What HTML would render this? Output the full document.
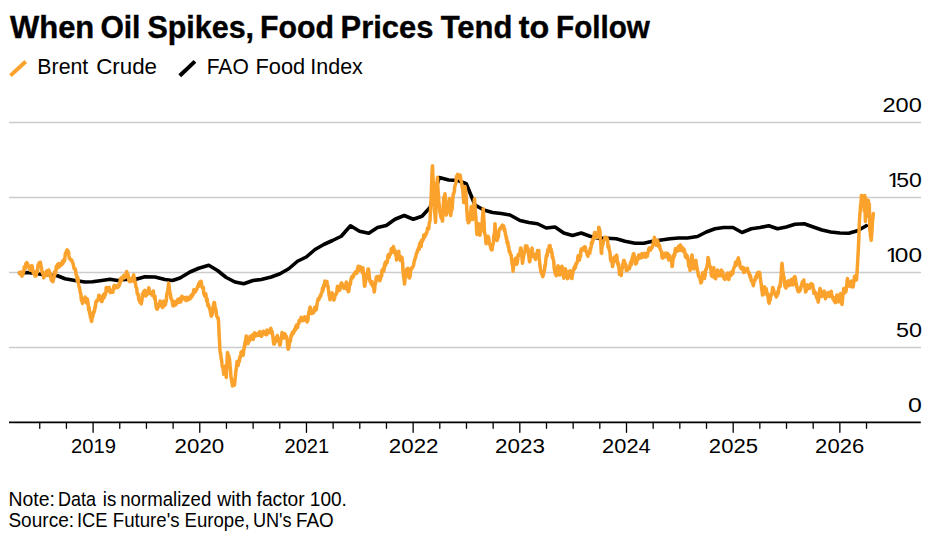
<!DOCTYPE html>
<html lang="en">
<head>
<meta charset="utf-8">
<title>When Oil Spikes, Food Prices Tend to Follow</title>
<style>
html,body{margin:0;padding:0;background:#fff;}
body{width:940px;height:540px;overflow:hidden;font-family:"Liberation Sans", Arial, Helvetica, sans-serif;}
svg{display:block;}
text{font-family:"Liberation Sans", Arial, Helvetica, sans-serif;fill:#000;white-space:pre;}
.t{font-size:31.0px;font-weight:700;}.l{font-size:22.8px;font-weight:400;}.n{font-size:19.3px;font-weight:400;}.a{font-size:19.6px;font-weight:400;}
</style>
</head>
<body>
<svg width="940" height="540" viewBox="0 0 940 540">
<rect x="0" y="0" width="940" height="540" fill="#ffffff"/>
<line x1="9" y1="122.5" x2="921" y2="122.5" stroke="#cccccc" stroke-width="1.45"/>
<line x1="9" y1="197.5" x2="921" y2="197.5" stroke="#cccccc" stroke-width="1.45"/>
<line x1="9" y1="272.5" x2="921" y2="272.5" stroke="#cccccc" stroke-width="1.45"/>
<line x1="9" y1="347.5" x2="921" y2="347.5" stroke="#cccccc" stroke-width="1.45"/>
<line x1="10.45" y1="75.6" x2="25.75" y2="61.5" stroke="#FBA22D" stroke-width="4"/>
<line x1="179.75" y1="75.8" x2="194.95" y2="61.4" stroke="#000" stroke-width="4"/>
<text class="t" y="37.5" stroke="#000" stroke-width="0.4"><tspan x="10.00" textLength="84.27" lengthAdjust="spacingAndGlyphs">When</tspan> <tspan x="100.39" textLength="40.04" lengthAdjust="spacingAndGlyphs">Oil</tspan> <tspan x="147.42" textLength="106.61" lengthAdjust="spacingAndGlyphs">Spikes,</tspan> <tspan x="260.05" textLength="73.90" lengthAdjust="spacingAndGlyphs">Food</tspan> <tspan x="340.61" textLength="92.72" lengthAdjust="spacingAndGlyphs">Prices</tspan> <tspan x="440.75" textLength="71.65" lengthAdjust="spacingAndGlyphs">Tend</tspan> <tspan x="518.88" textLength="30.44" lengthAdjust="spacingAndGlyphs">to</tspan> <tspan x="556.09" textLength="93.82" lengthAdjust="spacingAndGlyphs">Follow</tspan></text>
<text class="l" y="73.7"><tspan x="37.37" textLength="50.87" lengthAdjust="spacingAndGlyphs">Brent</tspan> <tspan x="96.17" textLength="60.90" lengthAdjust="spacingAndGlyphs">Crude</tspan></text>
<text class="l" y="73.7"><tspan x="206.69" textLength="42.04" lengthAdjust="spacingAndGlyphs">FAO</tspan> <tspan x="255.53" textLength="49.68" lengthAdjust="spacingAndGlyphs">Food</tspan> <tspan x="310.32" textLength="52.55" lengthAdjust="spacingAndGlyphs">Index</tspan></text>
<text class="n" y="505.6"><tspan x="8.49" textLength="46.36" lengthAdjust="spacingAndGlyphs">Note:</tspan> <tspan x="58.00" textLength="37.98" lengthAdjust="spacingAndGlyphs">Data</tspan> <tspan x="102.79" textLength="13.47" lengthAdjust="spacingAndGlyphs">is</tspan> <tspan x="120.29" textLength="90.97" lengthAdjust="spacingAndGlyphs">normalized</tspan> <tspan x="217.30" textLength="34.50" lengthAdjust="spacingAndGlyphs">with</tspan> <tspan x="256.55" textLength="47.98" lengthAdjust="spacingAndGlyphs">factor</tspan> <tspan x="309.82" textLength="37.04" lengthAdjust="spacingAndGlyphs">100.</tspan></text>
<text class="n" y="527.4"><tspan x="8.41" textLength="65.67" lengthAdjust="spacingAndGlyphs">Source:</tspan> <tspan x="76.94" textLength="30.52" lengthAdjust="spacingAndGlyphs">ICE</tspan> <tspan x="112.75" textLength="66.79" lengthAdjust="spacingAndGlyphs">Future's</tspan> <tspan x="184.55" textLength="65.18" lengthAdjust="spacingAndGlyphs">Europe,</tspan> <tspan x="252.89" textLength="38.74" lengthAdjust="spacingAndGlyphs">UN's</tspan> <tspan x="296.03" textLength="37.78" lengthAdjust="spacingAndGlyphs">FAO</tspan></text>
<text class="a" y="452.9"><tspan x="70.97" textLength="44.90" lengthAdjust="spacingAndGlyphs">2019</tspan></text>
<text class="a" y="452.9"><tspan x="174.61" textLength="49.60" lengthAdjust="spacingAndGlyphs">2020</tspan></text>
<text class="a" y="452.9"><tspan x="284.48" textLength="44.64" lengthAdjust="spacingAndGlyphs">2021</tspan></text>
<text class="a" y="452.9"><tspan x="388.86" textLength="49.58" lengthAdjust="spacingAndGlyphs">2022</tspan></text>
<text class="a" y="452.9"><tspan x="495.11" textLength="49.86" lengthAdjust="spacingAndGlyphs">2023</tspan></text>
<text class="a" y="452.9"><tspan x="602.14" textLength="48.52" lengthAdjust="spacingAndGlyphs">2024</tspan></text>
<text class="a" y="452.9"><tspan x="708.87" textLength="49.08" lengthAdjust="spacingAndGlyphs">2025</tspan></text>
<text class="a" y="452.9"><tspan x="815.13" textLength="49.02" lengthAdjust="spacingAndGlyphs">2026</tspan></text>
<text class="a" y="111.9"><tspan x="882.50" textLength="39.35" lengthAdjust="spacingAndGlyphs">200</tspan></text>
<clipPath id="c186"><rect x="888.40" y="166.9" width="7.10" height="18.10"/><rect x="892.70" y="184.90" width="2.80" height="2.90"/><rect x="895.50" y="166.9" width="40" height="18.10"/><rect x="899.27" y="184.90" width="40" height="8"/></clipPath>
<text class="a" y="186.9" clip-path="url(#c186)"><tspan x="887.15" textLength="13.09" lengthAdjust="spacingAndGlyphs">1</tspan><tspan x="896.32" textLength="25.62" lengthAdjust="spacingAndGlyphs">50</tspan></text>
<clipPath id="c261"><rect x="886.90" y="241.89999999999998" width="7.20" height="18.10"/><rect x="891.26" y="259.90" width="2.84" height="2.90"/><rect x="894.10" y="241.89999999999998" width="40" height="18.10"/><rect x="897.94" y="259.90" width="40" height="8"/></clipPath>
<text class="a" y="261.9" clip-path="url(#c261)"><tspan x="885.61" textLength="13.32" lengthAdjust="spacingAndGlyphs">1</tspan><tspan x="894.87" textLength="27.13" lengthAdjust="spacingAndGlyphs">00</tspan></text>
<text class="a" y="336.9"><tspan x="895.90" textLength="26.05" lengthAdjust="spacingAndGlyphs">50</tspan></text>
<text class="a" y="411.9"><tspan x="907.94" textLength="13.89" lengthAdjust="spacingAndGlyphs">0</tspan></text>
<path d="M19.50,273.00 L27.50,272.50 L36.00,273.50 L45.00,275.00 L54.00,275.50 L57.50,275.75 L65.00,278.75 L75.00,280.50 L85.00,282.00 L92.50,281.75 L100.00,280.75 L110.00,279.25 L117.50,280.50 L125.00,279.50 L135.00,279.50 L145.00,276.75 L155.00,277.00 L165.00,279.50 L172.50,280.50 L180.00,278.00 L190.00,272.00 L198.75,268.25 L208.75,265.25 L217.50,270.50 L226.25,277.50 L235.00,282.00 L243.75,283.75 L253.00,280.50 L261.25,279.50 L271.25,277.00 L280.00,273.75 L288.75,268.75 L297.50,261.25 L306.25,257.00 L315.00,249.50 L323.75,244.50 L332.50,240.50 L341.25,236.25 L350.50,225.75 L359.50,231.25 L368.75,233.25 L377.50,227.50 L386.25,225.50 L395.00,219.25 L404.25,215.50 L413.25,219.25 L422.00,216.25 L430.00,207.50 L439.25,177.50 L448.75,180.00 L458.00,180.50 L466.25,183.75 L475.00,205.00 L483.75,210.00 L492.50,212.50 L501.25,213.50 L510.00,215.00 L520.00,220.50 L528.75,222.50 L537.50,223.75 L546.25,228.00 L555.00,227.00 L563.75,233.00 L572.50,235.50 L581.25,233.00 L590.00,236.25 L598.75,238.25 L607.50,238.25 L616.25,238.75 L625.00,241.25 L635.00,243.25 L643.75,243.25 L652.50,241.25 L661.25,240.00 L670.00,238.75 L678.75,238.00 L687.50,238.00 L697.50,236.50 L706.25,232.00 L715.00,228.75 L723.75,227.50 L733.00,227.50 L742.00,232.50 L751.25,228.75 L760.00,227.50 L768.75,225.75 L777.50,228.75 L786.25,227.00 L795.00,224.25 L804.25,223.75 L813.25,227.00 L822.00,230.00 L830.75,232.00 L840.00,233.00 L848.75,233.25 L857.50,230.75 L866.25,225.75" fill="none" stroke="#000" stroke-width="3.6" stroke-linejoin="round" stroke-linecap="round"/>
<path d="M19.50,272.54 L19.92,274.01 L20.33,273.36 L20.75,273.13 L21.17,272.11 L21.58,273.20 L22.00,276.14 L22.38,274.96 L22.75,275.08 L23.12,273.14 L23.50,272.15 L23.88,270.86 L24.25,266.65 L24.62,269.00 L25.00,268.63 L25.42,268.21 L25.83,263.74 L26.25,263.15 L26.67,262.66 L27.08,262.86 L27.50,263.95 L27.90,264.70 L28.30,266.50 L28.70,265.56 L29.10,267.46 L29.50,268.80 L29.92,266.92 L30.33,270.27 L30.75,269.41 L31.17,269.93 L31.58,266.96 L32.00,265.60 L32.35,267.24 L32.70,269.12 L33.05,271.98 L33.40,273.17 L33.75,273.22 L34.17,272.05 L34.58,272.56 L35.00,276.01 L35.42,273.70 L35.83,274.92 L36.25,275.81 L36.67,270.85 L37.08,270.75 L37.50,271.84 L37.92,265.40 L38.33,264.76 L38.75,263.79 L39.17,262.86 L39.58,264.96 L40.00,264.74 L40.42,262.23 L40.83,265.50 L41.25,266.41 L41.67,269.28 L42.08,271.77 L42.50,272.81 L42.92,274.09 L43.33,273.34 L43.75,277.88 L44.17,275.91 L44.58,275.10 L45.00,273.02 L45.42,272.40 L45.83,272.51 L46.25,275.42 L46.67,270.94 L47.08,270.73 L47.50,272.65 L47.92,275.35 L48.33,274.60 L48.75,269.90 L49.17,270.79 L49.58,274.01 L50.00,273.75 L50.42,273.54 L50.83,277.82 L51.25,280.12 L51.67,279.81 L52.08,280.43 L52.50,281.57 L52.92,281.79 L53.33,279.91 L53.75,278.23 L54.17,276.84 L54.58,271.70 L55.00,274.18 L55.42,273.61 L55.83,271.80 L56.25,266.15 L56.67,266.14 L57.08,268.44 L57.50,264.48 L57.92,265.29 L58.33,267.37 L58.75,263.55 L59.17,267.10 L59.58,266.08 L60.00,264.10 L60.42,264.18 L60.83,264.61 L61.25,263.63 L61.67,264.95 L62.08,261.98 L62.50,261.20 L62.92,263.37 L63.33,262.12 L63.75,259.87 L64.16,261.07 L64.56,261.04 L64.97,257.14 L65.38,253.18 L65.78,253.12 L66.19,252.16 L66.59,250.64 L67.00,252.26 L67.38,249.88 L67.75,253.77 L68.12,251.19 L68.50,251.77 L68.88,255.13 L69.25,257.81 L69.62,258.87 L70.00,258.93 L70.42,258.88 L70.83,259.29 L71.25,260.60 L71.67,260.11 L72.08,261.16 L72.50,262.47 L72.92,262.93 L73.33,265.28 L73.75,266.55 L74.17,268.85 L74.58,268.99 L75.00,268.50 L75.38,269.56 L75.75,271.59 L76.12,275.00 L76.50,274.94 L76.88,277.24 L77.25,280.73 L77.62,277.09 L78.00,278.65 L78.42,282.65 L78.83,285.55 L79.25,287.50 L79.67,288.19 L80.08,291.61 L80.50,293.35 L80.90,294.11 L81.30,299.60 L81.70,300.80 L82.10,301.04 L82.50,303.41 L82.92,302.39 L83.33,301.79 L83.75,298.65 L84.17,298.63 L84.58,300.77 L85.00,297.06 L85.42,298.46 L85.83,301.05 L86.25,302.05 L86.67,303.02 L87.08,298.68 L87.50,299.86 L87.92,302.37 L88.33,306.43 L88.75,310.14 L89.17,307.54 L89.58,313.41 L90.00,312.35 L90.42,317.25 L90.83,316.50 L91.25,320.68 L91.67,321.53 L92.08,318.33 L92.50,316.74 L92.92,316.19 L93.33,313.73 L93.75,311.38 L94.17,312.18 L94.58,310.52 L95.00,306.63 L95.42,307.18 L95.83,301.76 L96.25,302.49 L96.67,300.58 L97.08,300.22 L97.50,300.72 L97.92,299.62 L98.33,299.58 L98.75,295.26 L99.17,295.32 L99.58,298.53 L100.00,297.09 L100.42,296.74 L100.83,296.98 L101.25,301.37 L101.67,301.20 L102.08,301.35 L102.50,297.35 L102.92,297.23 L103.33,294.73 L103.75,296.88 L104.17,297.81 L104.58,293.47 L105.00,295.69 L105.42,294.68 L105.83,291.63 L106.25,287.40 L106.67,291.21 L107.08,289.56 L107.50,287.80 L107.92,288.72 L108.33,288.79 L108.75,290.10 L109.17,287.20 L109.58,290.47 L110.00,291.98 L110.42,292.60 L110.83,291.21 L111.25,290.12 L111.67,292.27 L112.08,291.13 L112.50,290.47 L112.92,292.18 L113.33,289.60 L113.75,286.15 L114.17,286.73 L114.58,285.32 L115.00,288.06 L115.42,287.85 L115.83,285.84 L116.25,285.94 L116.67,287.22 L117.08,286.05 L117.50,287.60 L117.92,285.38 L118.33,286.32 L118.75,286.35 L119.17,285.79 L119.58,282.34 L120.00,283.56 L120.42,278.93 L120.83,278.37 L121.25,277.82 L121.67,280.88 L122.08,277.44 L122.50,278.08 L122.92,277.47 L123.33,277.11 L123.75,275.51 L124.17,275.99 L124.58,277.88 L125.00,275.57 L125.42,275.19 L125.83,275.45 L126.25,272.93 L126.67,271.43 L127.08,272.84 L127.50,276.95 L127.92,274.17 L128.33,275.76 L128.75,279.88 L129.17,280.99 L129.58,280.23 L130.00,281.68 L130.42,281.30 L130.83,279.02 L131.25,278.65 L131.67,278.56 L132.08,280.94 L132.50,278.69 L132.92,276.88 L133.33,276.08 L133.75,274.90 L134.17,278.25 L134.58,278.73 L135.00,282.90 L135.42,282.40 L135.83,286.56 L136.25,287.48 L136.67,288.02 L137.08,292.89 L137.50,294.02 L137.92,293.65 L138.33,295.64 L138.75,299.65 L139.17,299.26 L139.58,301.49 L140.00,302.35 L140.42,302.63 L140.83,302.26 L141.25,303.85 L141.67,301.68 L142.08,299.46 L142.50,293.65 L142.92,295.29 L143.33,295.52 L143.75,291.63 L144.17,290.95 L144.58,294.68 L145.00,290.25 L145.42,292.97 L145.83,295.93 L146.25,292.99 L146.67,293.89 L147.08,294.68 L147.50,291.94 L147.92,291.67 L148.33,291.65 L148.75,287.84 L149.17,289.31 L149.58,291.19 L150.00,293.49 L150.42,293.42 L150.83,293.78 L151.25,293.11 L151.67,293.28 L152.08,295.31 L152.50,294.33 L152.92,292.00 L153.33,290.94 L153.75,295.10 L154.16,297.13 L154.56,298.62 L154.97,295.99 L155.38,300.83 L155.78,303.59 L156.19,307.29 L156.59,308.40 L157.00,309.22 L157.38,309.07 L157.75,304.59 L158.12,307.36 L158.50,306.54 L158.88,303.90 L159.25,306.12 L159.62,305.88 L160.00,300.89 L160.42,301.15 L160.83,303.24 L161.25,304.05 L161.67,303.55 L162.08,302.62 L162.50,307.60 L162.92,307.18 L163.33,302.93 L163.75,301.15 L164.17,305.49 L164.58,305.45 L165.00,305.10 L165.42,304.45 L165.83,300.93 L166.25,301.46 L166.67,295.73 L167.08,293.16 L167.50,291.60 L167.92,290.21 L168.33,285.58 L168.75,283.14 L169.10,286.61 L169.45,289.14 L169.80,291.96 L170.15,293.64 L170.50,294.73 L170.92,298.20 L171.33,299.30 L171.75,299.33 L172.17,300.92 L172.58,303.82 L173.00,305.86 L173.41,305.93 L173.81,305.36 L174.22,305.18 L174.62,304.25 L175.03,301.60 L175.44,303.39 L175.84,304.85 L176.25,303.94 L176.67,302.52 L177.08,303.08 L177.50,300.65 L177.92,299.34 L178.33,301.00 L178.75,299.71 L179.17,302.17 L179.58,299.66 L180.00,298.65 L180.42,298.09 L180.83,302.07 L181.25,299.57 L181.67,296.56 L182.08,296.23 L182.50,298.07 L182.92,298.31 L183.33,297.46 L183.75,298.85 L184.17,298.71 L184.58,297.53 L185.00,298.41 L185.42,299.96 L185.83,300.24 L186.25,300.52 L186.67,297.16 L187.08,297.84 L187.50,299.84 L187.92,298.18 L188.33,299.79 L188.75,299.23 L189.17,299.32 L189.58,297.07 L190.00,298.85 L190.42,298.43 L190.83,295.94 L191.25,295.35 L191.67,297.04 L192.08,294.18 L192.50,295.01 L192.92,295.13 L193.33,293.06 L193.75,289.86 L194.17,290.82 L194.58,291.10 L195.00,292.22 L195.42,291.63 L195.83,289.70 L196.25,290.15 L196.67,289.39 L197.08,288.16 L197.50,287.09 L197.92,285.82 L198.33,286.69 L198.75,283.50 L199.17,283.13 L199.58,284.01 L200.00,281.77 L200.42,282.47 L200.83,281.36 L201.25,281.61 L201.67,285.27 L202.08,287.37 L202.50,287.79 L202.92,288.43 L203.33,287.40 L203.75,293.63 L204.17,294.05 L204.58,295.92 L205.00,293.69 L205.42,294.84 L205.83,293.86 L206.25,297.99 L206.67,301.23 L207.08,298.65 L207.50,302.12 L207.92,305.78 L208.33,304.27 L208.75,306.15 L209.17,307.19 L209.58,308.79 L210.00,309.27 L210.42,312.06 L210.83,314.11 L211.25,316.19 L211.66,315.28 L212.06,314.79 L212.47,313.38 L212.88,307.92 L213.28,306.55 L213.69,304.16 L214.09,302.56 L214.50,302.69 L214.90,305.89 L215.30,309.51 L215.70,308.66 L216.10,311.15 L216.50,315.30 L216.90,316.31 L217.30,316.95 L217.70,318.11 L218.10,317.74 L218.50,320.74 L218.88,329.02 L219.25,336.41 L219.62,343.22 L220.00,351.78 L220.40,352.40 L220.80,354.90 L221.20,359.16 L221.60,359.90 L222.00,364.45 L222.35,366.82 L222.70,366.05 L223.05,368.94 L223.40,370.98 L223.75,374.22 L224.17,372.93 L224.58,369.96 L225.00,366.10 L225.42,369.67 L225.83,372.95 L226.25,377.44 L226.67,370.11 L227.08,361.11 L227.50,352.40 L227.90,354.42 L228.30,355.11 L228.70,355.40 L229.10,357.88 L229.50,358.72 L229.85,363.24 L230.20,367.85 L230.55,370.05 L230.90,376.60 L231.25,377.83 L231.67,381.68 L232.08,382.62 L232.50,386.09 L232.90,380.90 L233.30,380.99 L233.70,382.65 L234.10,383.71 L234.50,385.10 L234.92,379.82 L235.33,376.77 L235.75,372.29 L236.17,369.59 L236.58,365.96 L237.00,361.60 L237.42,363.12 L237.83,361.34 L238.25,365.32 L238.60,360.97 L238.95,360.75 L239.30,361.85 L239.65,358.26 L240.00,356.46 L240.35,357.42 L240.70,355.06 L241.05,352.08 L241.40,352.30 L241.75,352.32 L242.12,353.21 L242.50,351.06 L242.88,354.79 L243.25,355.10 L243.60,351.44 L243.95,349.31 L244.30,346.01 L244.65,346.88 L245.00,342.06 L245.42,341.89 L245.83,338.67 L246.25,336.08 L246.60,339.30 L246.95,342.10 L247.30,341.39 L247.65,340.59 L248.00,343.64 L248.40,341.56 L248.80,340.67 L249.20,341.35 L249.60,340.10 L250.00,336.22 L250.42,339.06 L250.83,337.58 L251.25,338.61 L251.67,336.53 L252.08,337.02 L252.50,334.90 L252.92,339.39 L253.33,339.27 L253.75,334.97 L254.17,333.23 L254.58,332.82 L255.00,336.21 L255.42,334.80 L255.83,335.17 L256.25,334.97 L256.67,335.39 L257.08,333.93 L257.50,335.55 L257.92,333.15 L258.33,334.21 L258.75,334.94 L259.17,335.16 L259.58,333.65 L260.00,331.59 L260.42,333.12 L260.83,332.61 L261.25,336.23 L261.67,336.17 L262.08,334.66 L262.50,333.60 L262.92,332.34 L263.33,331.21 L263.75,331.59 L264.17,332.62 L264.58,333.11 L265.00,333.10 L265.42,334.48 L265.83,331.64 L266.25,332.02 L266.67,334.85 L267.08,329.92 L267.50,330.70 L267.91,331.96 L268.31,332.23 L268.72,332.64 L269.12,331.47 L269.53,332.01 L269.94,331.49 L270.34,332.46 L270.75,328.15 L271.10,329.10 L271.45,331.57 L271.80,331.13 L272.15,331.55 L272.50,335.22 L272.92,336.41 L273.33,340.76 L273.75,344.11 L274.10,343.61 L274.45,343.80 L274.80,342.77 L275.15,340.06 L275.50,341.59 L275.88,341.44 L276.25,338.60 L276.62,337.36 L277.00,337.44 L277.35,335.59 L277.70,337.99 L278.05,340.35 L278.40,338.16 L278.75,338.98 L279.17,340.23 L279.58,344.68 L280.00,345.23 L280.40,344.13 L280.80,339.75 L281.20,338.30 L281.60,336.66 L282.00,332.40 L282.35,337.18 L282.70,338.21 L283.05,334.12 L283.40,337.51 L283.75,337.44 L284.10,337.79 L284.45,337.43 L284.80,333.63 L285.15,334.29 L285.50,337.26 L285.88,336.32 L286.25,336.20 L286.62,337.09 L287.00,338.65 L287.42,343.03 L287.83,348.02 L288.25,349.18 L288.60,347.28 L288.95,347.60 L289.30,343.73 L289.65,341.28 L290.00,341.77 L290.40,341.17 L290.80,337.33 L291.20,334.90 L291.60,335.86 L292.00,335.31 L292.35,332.26 L292.70,332.85 L293.05,332.12 L293.40,333.35 L293.75,332.41 L294.15,331.06 L294.55,329.30 L294.95,330.40 L295.35,330.10 L295.75,326.50 L296.10,327.61 L296.45,324.95 L296.80,325.35 L297.15,326.55 L297.50,327.60 L297.90,324.72 L298.30,323.94 L298.70,323.83 L299.10,320.42 L299.50,321.63 L299.92,320.35 L300.33,321.39 L300.75,318.64 L301.17,317.40 L301.58,318.53 L302.00,318.92 L302.35,318.07 L302.70,320.53 L303.05,319.45 L303.40,318.64 L303.75,320.47 L304.15,316.90 L304.55,316.87 L304.95,317.72 L305.35,319.25 L305.75,317.65 L306.10,318.61 L306.45,317.53 L306.80,319.20 L307.15,322.10 L307.50,319.67 L307.90,320.35 L308.30,315.25 L308.70,313.19 L309.10,311.29 L309.50,310.70 L309.85,307.70 L310.20,307.15 L310.55,310.43 L310.90,312.25 L311.25,312.90 L311.67,313.64 L312.08,312.11 L312.50,311.53 L312.92,312.41 L313.33,311.57 L313.75,312.60 L314.10,308.68 L314.45,308.86 L314.80,307.40 L315.15,310.55 L315.50,309.52 L315.90,310.00 L316.30,309.60 L316.70,306.40 L317.10,303.86 L317.50,301.55 L317.92,299.62 L318.33,298.64 L318.75,299.90 L319.17,298.58 L319.58,297.50 L320.00,296.01 L320.42,296.77 L320.83,295.60 L321.25,293.37 L321.67,293.37 L322.08,291.22 L322.50,287.99 L322.90,290.66 L323.30,289.01 L323.70,285.05 L324.10,286.52 L324.50,284.90 L324.85,281.09 L325.20,285.30 L325.55,284.32 L325.90,284.82 L326.25,283.58 L326.60,283.36 L326.95,281.40 L327.30,285.59 L327.65,285.85 L328.00,285.86 L328.40,289.49 L328.80,292.06 L329.20,295.83 L329.60,297.05 L330.00,299.86 L330.40,295.90 L330.80,295.33 L331.20,296.13 L331.60,296.60 L332.00,292.75 L332.35,293.37 L332.70,297.10 L333.05,295.82 L333.40,297.93 L333.75,300.10 L334.10,297.98 L334.45,299.05 L334.80,295.61 L335.15,295.74 L335.50,294.94 L335.90,293.69 L336.30,294.10 L336.70,293.10 L337.10,288.71 L337.50,286.36 L337.90,288.50 L338.30,286.77 L338.70,289.29 L339.10,290.63 L339.50,289.90 L339.90,289.92 L340.30,285.53 L340.70,287.50 L341.10,283.40 L341.50,282.84 L341.88,283.45 L342.25,284.08 L342.62,286.70 L343.00,286.36 L343.38,285.51 L343.75,287.04 L344.17,288.43 L344.58,286.34 L345.00,285.98 L345.42,287.16 L345.83,285.55 L346.25,281.92 L346.65,287.85 L347.05,289.35 L347.45,285.65 L347.85,288.77 L348.25,291.66 L348.60,291.63 L348.95,290.11 L349.30,286.91 L349.65,283.41 L350.00,283.29 L350.40,284.45 L350.80,280.38 L351.20,278.42 L351.60,278.89 L352.00,276.15 L352.42,276.75 L352.83,276.23 L353.25,277.24 L353.67,275.12 L354.08,273.64 L354.50,273.60 L354.92,273.59 L355.33,271.93 L355.75,272.03 L356.17,272.85 L356.58,273.38 L357.00,272.60 L357.42,269.08 L357.83,268.24 L358.25,266.15 L358.67,270.84 L359.08,267.49 L359.50,267.29 L359.92,268.99 L360.33,266.61 L360.75,269.46 L361.17,269.98 L361.58,268.02 L362.00,270.87 L362.42,272.85 L362.83,267.82 L363.25,270.54 L363.67,275.57 L364.08,281.05 L364.50,286.16 L364.85,286.10 L365.20,282.51 L365.55,282.25 L365.90,278.87 L366.25,278.77 L366.60,274.73 L366.95,273.45 L367.30,274.85 L367.65,272.21 L368.00,269.06 L368.40,269.05 L368.80,271.15 L369.20,275.11 L369.60,279.31 L370.00,281.31 L370.40,281.90 L370.80,281.42 L371.20,284.08 L371.60,282.20 L372.00,281.58 L372.38,285.23 L372.75,285.98 L373.12,286.57 L373.50,287.19 L373.88,288.93 L374.25,292.07 L374.65,289.67 L375.05,284.40 L375.45,283.87 L375.85,281.61 L376.25,277.08 L376.60,279.06 L376.95,277.53 L377.30,276.57 L377.65,277.94 L378.00,278.85 L378.40,276.42 L378.80,277.92 L379.20,276.41 L379.60,280.85 L380.00,278.77 L380.40,279.66 L380.80,275.84 L381.20,276.32 L381.60,276.35 L382.00,269.90 L382.35,270.06 L382.70,271.31 L383.05,270.19 L383.40,268.28 L383.75,271.35 L384.17,268.76 L384.58,264.08 L385.00,266.26 L385.42,261.98 L385.83,264.70 L386.25,261.87 L386.67,261.50 L387.08,262.70 L387.50,260.39 L387.92,256.18 L388.33,254.69 L388.75,257.47 L389.17,257.18 L389.58,253.73 L390.00,255.00 L390.42,254.25 L390.83,253.72 L391.25,248.65 L391.67,249.38 L392.08,251.53 L392.50,251.71 L392.92,251.77 L393.33,246.57 L393.75,248.14 L394.10,250.17 L394.45,252.85 L394.80,250.19 L395.15,250.87 L395.50,252.26 L395.88,255.89 L396.25,255.98 L396.62,260.10 L397.00,259.27 L397.35,258.98 L397.70,256.63 L398.05,256.23 L398.40,253.75 L398.75,251.15 L399.10,255.81 L399.45,256.67 L399.80,256.07 L400.15,257.87 L400.50,260.57 L400.88,257.00 L401.25,256.91 L401.62,257.64 L402.00,257.46 L402.33,260.65 L402.67,262.82 L403.00,271.33 L403.38,274.49 L403.75,277.27 L404.12,279.95 L404.50,284.10 L404.85,280.86 L405.20,277.18 L405.55,274.94 L405.90,272.96 L406.25,270.77 L406.60,269.40 L406.95,271.74 L407.30,268.72 L407.65,270.89 L408.00,268.31 L408.38,272.23 L408.75,276.86 L409.12,277.80 L409.50,277.87 L409.85,276.78 L410.20,275.44 L410.55,270.90 L410.90,269.75 L411.25,269.59 L411.67,267.76 L412.08,267.30 L412.50,267.50 L412.92,266.82 L413.33,266.02 L413.75,264.35 L414.17,261.59 L414.58,260.43 L415.00,258.89 L415.42,257.60 L415.83,256.71 L416.25,253.65 L416.67,253.28 L417.08,252.76 L417.50,249.92 L417.92,249.69 L418.33,249.63 L418.75,247.44 L419.17,249.47 L419.58,243.65 L420.00,244.34 L420.42,242.40 L420.83,245.23 L421.25,246.35 L421.67,240.11 L422.08,240.99 L422.50,241.32 L422.92,239.28 L423.33,239.43 L423.75,234.90 L424.17,237.50 L424.58,237.14 L425.00,235.98 L425.42,234.07 L425.83,235.20 L426.25,233.16 L426.67,232.90 L427.08,230.82 L427.50,228.03 L427.92,228.62 L428.33,228.57 L428.75,228.87 L429.17,223.90 L429.58,222.06 L430.00,220.96 L430.42,211.43 L430.83,204.11 L431.25,195.10 L431.67,182.61 L432.08,171.57 L432.50,165.63 L432.83,174.27 L433.17,180.90 L433.50,187.36 L433.83,193.05 L434.17,200.28 L434.50,211.11 L434.83,213.75 L435.17,217.40 L435.50,222.40 L435.83,215.10 L436.17,202.60 L436.50,187.17 L436.83,183.16 L437.17,181.58 L437.50,177.37 L437.83,186.88 L438.17,191.77 L438.50,195.73 L438.88,202.98 L439.25,204.56 L439.62,208.99 L440.00,212.56 L440.42,214.04 L440.83,217.06 L441.25,217.64 L441.67,217.82 L442.08,219.48 L442.50,221.15 L442.92,212.72 L443.33,205.41 L443.75,197.31 L444.17,197.60 L444.58,196.38 L445.00,193.76 L445.42,200.37 L445.83,206.57 L446.25,215.04 L446.60,214.45 L446.95,212.86 L447.30,209.67 L447.65,207.00 L448.00,206.60 L448.38,203.71 L448.75,202.78 L449.12,200.96 L449.50,198.44 L449.92,206.35 L450.33,209.88 L450.75,215.56 L451.17,211.64 L451.58,208.39 L452.00,209.59 L452.42,205.10 L452.83,198.45 L453.25,193.86 L453.60,194.09 L453.95,192.86 L454.30,192.10 L454.65,187.14 L455.00,185.87 L455.42,184.41 L455.83,183.43 L456.25,178.60 L456.60,176.09 L456.95,175.96 L457.30,175.20 L457.65,174.41 L458.00,178.22 L458.38,175.19 L458.75,174.88 L459.12,176.97 L459.50,176.35 L459.85,176.27 L460.20,175.18 L460.55,177.29 L460.90,180.35 L461.25,180.78 L461.67,184.27 L462.08,185.67 L462.50,188.81 L462.92,191.76 L463.33,196.64 L463.75,202.60 L464.17,193.75 L464.58,190.14 L465.00,186.44 L465.42,189.04 L465.83,192.86 L466.25,198.60 L466.67,207.18 L467.08,213.71 L467.50,220.05 L467.90,217.16 L468.30,222.85 L468.70,222.05 L469.10,222.06 L469.50,220.59 L469.85,218.48 L470.20,213.76 L470.55,212.09 L470.90,210.11 L471.25,206.52 L471.67,210.60 L472.08,212.43 L472.50,219.61 L472.90,213.81 L473.30,208.40 L473.70,206.50 L474.10,202.69 L474.50,198.80 L474.92,205.17 L475.33,212.08 L475.75,215.37 L476.17,221.51 L476.58,229.72 L477.00,234.51 L477.35,230.93 L477.70,228.88 L478.05,226.42 L478.40,224.39 L478.75,223.78 L479.17,227.36 L479.58,229.07 L480.00,235.30 L480.40,231.82 L480.80,231.75 L481.20,227.82 L481.60,226.19 L482.00,226.35 L482.42,218.61 L482.83,213.05 L483.25,208.65 L483.67,215.73 L484.08,222.82 L484.50,232.25 L484.85,233.76 L485.20,234.90 L485.55,237.40 L485.90,242.70 L486.25,243.67 L486.60,241.63 L486.95,240.70 L487.30,240.76 L487.65,238.60 L488.00,236.35 L488.40,236.92 L488.80,238.49 L489.20,242.35 L489.60,244.35 L490.00,244.10 L490.40,246.45 L490.80,248.10 L491.20,249.39 L491.60,249.99 L492.00,249.90 L492.35,247.63 L492.70,243.90 L493.05,244.79 L493.40,241.92 L493.75,235.83 L494.17,235.68 L494.58,232.28 L495.00,223.65 L495.40,231.40 L495.80,234.05 L496.20,237.10 L496.60,235.94 L497.00,240.50 L497.35,239.69 L497.70,238.19 L498.05,236.80 L498.40,237.09 L498.75,231.79 L499.17,230.11 L499.58,229.07 L500.00,228.71 L500.42,227.82 L500.83,228.59 L501.25,228.00 L501.62,227.31 L502.00,225.53 L502.38,225.06 L502.75,227.13 L503.12,227.25 L503.50,225.82 L503.90,226.21 L504.30,230.60 L504.70,229.34 L505.10,232.11 L505.50,234.97 L505.88,235.07 L506.25,238.50 L506.62,237.62 L507.00,242.57 L507.42,243.74 L507.83,242.01 L508.25,246.56 L508.67,246.42 L509.08,251.37 L509.50,250.65 L509.85,251.74 L510.20,253.58 L510.55,253.77 L510.90,255.55 L511.25,255.36 L511.60,259.90 L511.95,262.07 L512.30,264.99 L512.65,264.65 L513.00,271.18 L513.40,268.22 L513.80,262.90 L514.20,262.51 L514.60,261.58 L515.00,260.88 L515.40,258.30 L515.80,262.61 L516.20,261.54 L516.60,264.35 L517.00,263.15 L517.40,261.95 L517.80,258.35 L518.20,254.44 L518.60,255.75 L519.00,254.57 L519.40,254.60 L519.80,253.95 L520.20,250.83 L520.60,247.90 L521.00,247.92 L521.38,251.18 L521.75,254.10 L522.12,259.67 L522.50,263.19 L522.90,260.01 L523.30,258.23 L523.70,255.57 L524.10,253.82 L524.50,252.72 L524.85,252.49 L525.20,248.80 L525.55,245.65 L525.90,248.91 L526.25,247.04 L526.60,249.52 L526.95,246.09 L527.30,247.90 L527.65,249.83 L528.00,248.65 L528.40,251.41 L528.80,255.91 L529.20,259.42 L529.60,261.85 L530.00,260.61 L530.40,256.40 L530.80,256.78 L531.20,256.20 L531.60,253.19 L532.00,247.99 L532.35,251.70 L532.70,253.67 L533.05,254.58 L533.40,253.68 L533.75,255.43 L534.10,257.33 L534.45,256.05 L534.80,254.65 L535.15,257.68 L535.50,259.50 L535.90,257.54 L536.30,257.45 L536.70,253.79 L537.10,252.44 L537.50,250.59 L537.92,251.63 L538.33,253.02 L538.75,250.46 L539.17,257.18 L539.58,261.77 L540.00,266.08 L540.40,268.12 L540.80,271.35 L541.20,271.84 L541.60,273.75 L542.00,274.34 L542.42,275.39 L542.83,276.65 L543.25,274.95 L543.67,273.48 L544.08,271.17 L544.50,270.35 L544.85,265.31 L545.20,266.53 L545.55,262.87 L545.90,258.88 L546.25,256.66 L546.60,254.78 L546.95,256.01 L547.30,255.67 L547.65,250.07 L548.00,251.08 L548.40,251.48 L548.80,248.65 L549.20,245.90 L549.60,245.75 L550.00,245.57 L550.40,248.94 L550.80,249.84 L551.20,249.40 L551.60,253.01 L552.00,252.40 L552.35,257.47 L552.70,256.58 L553.05,258.33 L553.40,259.79 L553.75,262.00 L554.17,267.77 L554.58,270.47 L555.00,272.46 L555.42,274.13 L555.83,272.85 L556.25,275.74 L556.60,273.89 L556.95,271.18 L557.30,271.60 L557.65,268.20 L558.00,265.77 L558.40,266.26 L558.80,267.40 L559.20,271.41 L559.60,274.95 L560.00,274.92 L560.40,270.65 L560.80,267.65 L561.20,267.90 L561.60,268.73 L562.00,266.23 L562.35,269.35 L562.70,272.10 L563.05,274.35 L563.40,274.12 L563.75,278.18 L564.10,277.07 L564.45,271.71 L564.80,271.06 L565.15,268.65 L565.50,268.89 L565.90,272.15 L566.30,271.31 L566.70,271.90 L567.10,277.43 L567.50,278.68 L567.90,278.35 L568.30,272.53 L568.70,273.64 L569.10,273.10 L569.50,271.35 L569.92,270.74 L570.33,272.34 L570.75,273.08 L571.17,276.37 L571.58,278.53 L572.00,278.53 L572.35,273.41 L572.70,274.10 L573.05,270.87 L573.40,270.41 L573.75,268.29 L574.10,269.60 L574.45,269.10 L574.80,266.10 L575.15,266.16 L575.50,267.60 L575.90,263.69 L576.30,263.26 L576.70,263.66 L577.10,262.60 L577.50,260.59 L577.90,256.77 L578.30,255.65 L578.70,257.54 L579.10,258.28 L579.50,260.10 L579.85,255.61 L580.20,256.82 L580.55,255.78 L580.90,250.20 L581.25,248.97 L581.67,250.34 L582.08,249.35 L582.50,249.35 L582.92,250.20 L583.33,247.93 L583.75,249.16 L584.10,247.50 L584.45,246.92 L584.80,248.50 L585.15,246.89 L585.50,247.72 L585.90,251.60 L586.30,251.46 L586.70,252.07 L587.10,254.85 L587.50,254.81 L587.90,256.38 L588.30,252.35 L588.70,254.04 L589.10,252.27 L589.50,250.81 L589.85,253.34 L590.20,248.38 L590.55,249.85 L590.90,247.59 L591.25,246.35 L591.60,241.90 L591.95,243.61 L592.30,243.35 L592.65,240.45 L593.00,238.76 L593.40,240.10 L593.80,237.48 L594.20,234.67 L594.60,232.50 L595.00,232.87 L595.40,233.97 L595.80,234.57 L596.20,237.35 L596.60,235.82 L597.00,237.21 L597.35,237.35 L597.70,232.35 L598.05,233.31 L598.40,232.85 L598.75,227.22 L599.17,227.91 L599.58,229.48 L600.00,231.15 L600.42,239.90 L600.83,243.65 L601.25,252.49 L601.60,253.35 L601.95,247.00 L602.30,245.98 L602.65,242.90 L603.00,244.24 L603.40,241.35 L603.80,240.37 L604.20,239.79 L604.60,239.66 L605.00,237.19 L605.40,237.92 L605.80,237.49 L606.20,238.85 L606.60,237.34 L607.00,239.36 L607.35,238.90 L607.70,241.21 L608.05,247.10 L608.40,247.05 L608.75,245.60 L609.10,249.55 L609.45,250.18 L609.80,251.65 L610.15,254.26 L610.50,259.29 L610.90,260.88 L611.30,261.38 L611.70,260.88 L612.10,261.24 L612.50,266.55 L612.90,264.73 L613.30,261.13 L613.70,258.65 L614.10,257.40 L614.50,261.35 L614.85,257.09 L615.20,257.21 L615.55,257.44 L615.90,256.53 L616.25,255.67 L616.60,255.15 L616.95,256.65 L617.30,262.88 L617.65,261.63 L618.00,265.06 L618.38,263.35 L618.75,266.72 L619.12,270.29 L619.50,274.36 L619.85,271.63 L620.20,274.09 L620.55,274.90 L620.90,273.49 L621.25,275.50 L621.60,271.56 L621.95,269.06 L622.30,268.29 L622.65,264.40 L623.00,263.89 L623.38,261.87 L623.75,260.52 L624.12,260.51 L624.50,262.04 L624.85,262.30 L625.20,266.37 L625.55,264.40 L625.90,264.65 L626.25,270.63 L626.67,269.92 L627.08,270.52 L627.50,267.40 L627.92,269.11 L628.33,268.59 L628.75,268.98 L629.17,267.44 L629.58,268.62 L630.00,265.29 L630.42,263.15 L630.83,261.77 L631.25,264.93 L631.67,261.38 L632.08,258.63 L632.50,256.91 L632.92,256.25 L633.33,253.86 L633.75,253.57 L634.10,255.37 L634.45,257.44 L634.80,258.73 L635.15,262.27 L635.50,263.92 L635.90,263.83 L636.30,263.39 L636.70,262.75 L637.10,258.40 L637.50,258.13 L637.90,257.16 L638.30,259.16 L638.70,255.15 L639.10,254.80 L639.50,254.95 L639.92,255.19 L640.33,257.66 L640.75,255.95 L641.17,257.88 L641.58,254.18 L642.00,253.65 L642.42,257.33 L642.83,257.07 L643.25,256.93 L643.67,256.10 L644.08,256.32 L644.50,253.20 L644.92,256.29 L645.33,254.84 L645.75,257.20 L646.17,256.54 L646.58,253.44 L647.00,253.65 L647.35,256.12 L647.70,253.90 L648.05,251.84 L648.40,251.46 L648.75,249.31 L649.17,248.15 L649.58,248.51 L650.00,248.30 L650.42,250.10 L650.83,247.87 L651.25,248.85 L651.60,248.35 L651.95,247.85 L652.30,247.35 L652.65,245.39 L653.00,244.40 L653.38,242.47 L653.75,239.92 L654.12,239.42 L654.50,237.39 L654.85,242.73 L655.20,243.58 L655.55,243.09 L655.90,242.15 L656.25,245.24 L656.60,244.40 L656.95,242.41 L657.30,241.40 L657.65,240.65 L658.00,242.61 L658.40,243.17 L658.80,246.60 L659.20,245.60 L659.60,245.53 L660.00,248.85 L660.40,249.15 L660.80,250.45 L661.20,251.08 L661.60,252.01 L662.00,257.27 L662.35,257.84 L662.70,258.10 L663.05,256.03 L663.40,256.15 L663.75,254.72 L664.17,257.04 L664.58,253.33 L665.00,255.29 L665.42,256.66 L665.83,256.77 L666.25,252.97 L666.67,256.06 L667.08,254.31 L667.50,254.02 L667.92,253.65 L668.33,258.05 L668.75,260.10 L669.10,257.09 L669.45,255.58 L669.80,255.64 L670.15,259.10 L670.50,258.85 L670.88,258.37 L671.25,258.02 L671.62,260.69 L672.00,266.39 L672.35,266.10 L672.70,262.43 L673.05,259.41 L673.40,257.70 L673.75,254.90 L674.10,256.97 L674.45,253.30 L674.80,255.07 L675.15,249.90 L675.50,248.65 L675.90,250.61 L676.30,249.24 L676.70,251.38 L677.10,250.57 L677.50,248.00 L677.92,249.92 L678.33,250.66 L678.75,245.90 L679.17,250.38 L679.58,249.23 L680.00,248.97 L680.42,244.90 L680.83,245.79 L681.25,247.10 L681.67,250.45 L682.08,247.38 L682.50,247.67 L682.92,247.94 L683.33,249.74 L683.75,251.78 L684.17,249.57 L684.58,250.73 L685.00,253.48 L685.42,256.81 L685.83,257.27 L686.25,256.32 L686.67,255.03 L687.08,255.64 L687.50,256.96 L687.92,260.05 L688.33,261.75 L688.75,266.10 L689.17,266.43 L689.58,265.07 L690.00,270.28 L690.40,268.41 L690.80,264.86 L691.20,260.77 L691.60,257.00 L692.00,254.90 L692.35,260.48 L692.70,260.81 L693.05,261.65 L693.40,265.94 L693.75,268.99 L694.10,268.08 L694.45,266.64 L694.80,265.80 L695.15,260.75 L695.50,261.05 L695.90,260.27 L696.30,264.32 L696.70,266.11 L697.10,268.15 L697.50,271.47 L697.90,271.76 L698.30,274.93 L698.70,276.66 L699.10,276.97 L699.50,276.85 L699.92,278.00 L700.33,280.16 L700.75,282.86 L701.10,281.39 L701.45,282.35 L701.80,279.81 L702.15,277.86 L702.50,272.94 L702.90,272.69 L703.30,273.63 L703.70,275.20 L704.10,273.87 L704.50,278.49 L704.85,274.67 L705.20,275.41 L705.55,269.60 L705.90,269.93 L706.25,269.68 L706.60,268.01 L706.95,266.93 L707.30,264.73 L707.65,262.52 L708.00,257.40 L708.40,259.06 L708.80,259.90 L709.20,263.97 L709.60,265.63 L710.00,266.12 L710.40,266.48 L710.80,268.17 L711.20,274.10 L711.60,275.85 L712.00,275.81 L712.35,276.60 L712.70,271.05 L713.05,269.40 L713.40,269.22 L713.75,267.80 L714.10,269.97 L714.45,273.22 L714.80,277.85 L715.15,276.72 L715.50,278.74 L715.90,277.74 L716.30,275.86 L716.70,275.96 L717.10,275.35 L717.50,269.92 L717.90,272.43 L718.30,273.41 L718.70,275.75 L719.10,274.05 L719.50,275.40 L719.85,274.30 L720.20,275.84 L720.55,275.06 L720.90,273.86 L721.25,269.90 L721.60,271.42 L721.95,271.59 L722.30,271.40 L722.65,271.94 L723.00,275.36 L723.40,277.01 L723.80,277.15 L724.20,278.75 L724.60,277.88 L725.00,279.38 L725.40,278.38 L725.80,278.21 L726.20,276.28 L726.60,274.72 L727.00,273.45 L727.35,273.13 L727.70,277.65 L728.05,277.54 L728.40,277.76 L728.75,279.60 L729.10,278.60 L729.45,273.11 L729.80,274.59 L730.15,274.71 L730.50,274.60 L730.90,275.00 L731.30,275.10 L731.70,271.89 L732.10,271.57 L732.50,273.77 L732.90,273.43 L733.30,269.65 L733.70,268.57 L734.10,267.25 L734.50,266.71 L734.85,266.60 L735.20,264.86 L735.55,261.95 L735.90,264.82 L736.25,265.10 L736.60,262.22 L736.95,262.60 L737.30,261.03 L737.65,260.22 L738.00,258.97 L738.40,257.89 L738.80,260.73 L739.20,263.33 L739.60,261.61 L740.00,266.35 L740.40,267.10 L740.80,267.85 L741.20,268.60 L741.60,269.00 L742.00,267.68 L742.35,267.23 L742.70,267.18 L743.05,269.32 L743.40,270.29 L743.75,272.38 L744.10,267.90 L744.45,272.35 L744.80,271.60 L745.15,269.11 L745.50,269.02 L745.90,269.39 L746.30,269.48 L746.70,268.97 L747.10,269.27 L747.50,268.43 L747.90,270.77 L748.30,271.88 L748.70,273.53 L749.10,272.65 L749.50,274.60 L749.85,275.70 L750.20,277.57 L750.55,275.71 L750.90,278.22 L751.25,280.60 L751.60,281.47 L751.95,280.69 L752.30,280.84 L752.65,282.01 L753.00,284.80 L753.40,285.60 L753.80,282.88 L754.20,280.56 L754.60,281.10 L755.00,280.49 L755.40,277.79 L755.80,276.66 L756.20,276.92 L756.60,277.92 L757.00,274.42 L757.42,273.15 L757.83,275.03 L758.25,272.18 L758.67,273.18 L759.08,273.56 L759.50,272.45 L759.85,273.15 L760.20,276.75 L760.55,279.14 L760.90,282.80 L761.25,283.60 L761.67,290.22 L762.08,290.00 L762.50,295.06 L762.90,294.10 L763.30,294.34 L763.70,290.46 L764.10,290.04 L764.50,286.76 L764.85,289.07 L765.20,291.10 L765.55,289.19 L765.90,290.36 L766.25,288.63 L766.60,292.52 L766.95,295.10 L767.30,294.72 L767.65,293.30 L768.00,296.38 L768.38,299.93 L768.75,301.98 L769.12,303.31 L769.50,300.04 L769.85,298.41 L770.20,300.33 L770.55,294.93 L770.90,295.99 L771.25,295.10 L771.60,294.03 L771.95,293.60 L772.30,290.56 L772.65,287.40 L773.00,287.83 L773.40,289.07 L773.80,290.43 L774.20,292.89 L774.60,292.89 L775.00,294.14 L775.40,294.90 L775.80,294.56 L776.20,297.10 L776.60,296.46 L777.00,295.75 L777.35,293.89 L777.70,291.84 L778.05,294.01 L778.40,291.97 L778.75,288.40 L779.10,287.18 L779.45,286.70 L779.80,285.17 L780.15,286.57 L780.50,282.21 L780.88,279.10 L781.25,274.13 L781.62,266.76 L782.00,263.14 L782.35,266.37 L782.70,270.52 L783.05,272.21 L783.40,276.11 L783.75,276.15 L784.10,277.90 L784.45,282.75 L784.80,286.05 L785.15,286.44 L785.50,286.66 L785.90,288.16 L786.30,282.90 L786.70,282.15 L787.10,283.89 L787.50,283.81 L787.90,281.60 L788.30,280.90 L788.70,285.70 L789.10,285.37 L789.50,283.69 L789.85,283.89 L790.20,285.00 L790.55,280.15 L790.90,283.09 L791.25,282.96 L791.60,279.15 L791.95,282.73 L792.30,280.15 L792.65,284.39 L793.00,284.87 L793.38,284.16 L793.75,279.19 L794.12,277.13 L794.50,276.86 L794.85,276.50 L795.20,277.56 L795.55,279.83 L795.90,282.46 L796.25,282.86 L796.60,285.87 L796.95,287.52 L797.30,287.74 L797.65,290.60 L798.00,289.07 L798.40,291.71 L798.80,289.63 L799.20,291.57 L799.60,288.15 L800.00,290.70 L800.40,289.49 L800.80,287.68 L801.20,286.03 L801.60,285.11 L802.00,283.30 L802.35,281.90 L802.70,282.02 L803.05,281.82 L803.40,281.47 L803.75,280.06 L804.10,282.90 L804.45,286.53 L804.80,286.91 L805.15,287.58 L805.50,292.12 L805.90,291.50 L806.30,290.53 L806.70,289.60 L807.10,286.32 L807.50,284.88 L807.90,287.46 L808.30,285.69 L808.70,286.18 L809.10,287.57 L809.50,288.37 L809.85,286.06 L810.20,286.70 L810.55,284.03 L810.90,283.90 L811.25,283.67 L811.60,284.78 L811.95,286.28 L812.30,284.37 L812.65,284.65 L813.00,286.73 L813.40,289.90 L813.80,293.35 L814.20,290.46 L814.60,292.85 L815.00,292.25 L815.40,292.41 L815.80,293.61 L816.20,296.10 L816.60,296.43 L817.00,298.61 L817.42,296.55 L817.83,300.02 L818.25,302.12 L818.60,298.87 L818.95,297.16 L819.30,293.39 L819.65,289.83 L820.00,288.51 L820.40,289.32 L820.80,294.60 L821.20,293.04 L821.60,296.60 L822.00,296.27 L822.35,295.51 L822.70,295.69 L823.05,292.69 L823.40,294.37 L823.75,293.66 L824.10,290.93 L824.45,294.27 L824.80,295.84 L825.15,296.70 L825.50,298.85 L825.90,295.91 L826.30,296.23 L826.70,296.44 L827.10,293.22 L827.50,295.55 L827.90,292.52 L828.30,292.65 L828.70,296.03 L829.10,294.80 L829.50,296.61 L829.85,294.15 L830.20,295.21 L830.55,292.93 L830.90,294.31 L831.25,291.15 L831.60,294.65 L831.95,295.23 L832.30,296.68 L832.65,297.61 L833.00,298.93 L833.40,297.44 L833.80,298.15 L834.20,300.90 L834.60,300.77 L835.00,302.24 L835.40,302.74 L835.80,298.65 L836.20,297.72 L836.60,296.85 L837.00,294.93 L837.35,297.94 L837.70,298.64 L838.05,298.15 L838.40,298.17 L838.75,301.89 L839.10,299.29 L839.45,299.97 L839.80,299.31 L840.15,294.65 L840.50,293.65 L840.88,296.91 L841.25,299.67 L841.62,302.45 L842.00,304.47 L842.35,302.30 L842.70,297.22 L843.05,293.95 L843.40,292.79 L843.75,288.44 L844.10,291.54 L844.45,288.52 L844.80,292.14 L845.15,292.58 L845.50,291.15 L845.90,291.85 L846.30,289.11 L846.70,285.84 L847.10,280.93 L847.50,278.53 L847.90,283.96 L848.30,282.78 L848.70,282.65 L849.10,284.55 L849.50,286.15 L849.85,286.35 L850.20,285.14 L850.55,282.97 L850.90,281.52 L851.25,283.61 L851.60,281.04 L851.95,286.60 L852.30,284.68 L852.65,283.51 L853.00,286.97 L853.38,285.64 L853.75,281.07 L854.12,281.47 L854.50,276.15 L854.85,276.43 L855.20,280.38 L855.55,279.43 L855.90,277.38 L856.25,280.10 L856.67,277.52 L857.08,272.22 L857.50,264.90 L857.90,257.22 L858.30,250.22 L858.60,243.46 L858.90,236.60 L859.20,226.46 L859.53,219.62 L859.87,214.35 L860.20,211.06 L860.60,204.36 L861.00,203.68 L861.40,195.40 L861.73,197.86 L862.07,195.63 L862.40,196.47 L862.70,202.40 L863.00,204.36 L863.30,200.52 L863.60,196.68 L863.90,205.37 L864.20,210.72 L864.50,202.77 L864.80,195.40 L865.10,212.10 L865.40,221.56 L865.70,210.80 L866.00,198.40 L866.30,209.76 L866.60,216.30 L866.90,210.59 L867.20,201.85 L867.50,207.11 L867.80,214.61 L868.10,205.81 L868.40,200.41 L868.65,207.33 L868.90,213.40 L869.30,204.12 L869.55,215.93 L869.80,230.38 L870.15,230.40 L870.50,235.88 L870.85,237.60 L871.20,240.33 L871.50,237.17 L871.80,232.79 L872.15,227.33 L872.50,221.26 L872.90,218.38 L873.30,213.50" fill="none" stroke="#FBA22D" stroke-width="3.5" stroke-linejoin="round" stroke-linecap="round"/>
<line x1="9" y1="422.4" x2="920.8" y2="422.4" stroke="#000" stroke-width="1.6"/>
<line x1="39.76" y1="422.4" x2="39.76" y2="428.3" stroke="#000" stroke-width="1.3" stroke-linecap="round"/>
<line x1="66.43" y1="422.4" x2="66.43" y2="428.3" stroke="#000" stroke-width="1.3" stroke-linecap="round"/>
<line x1="93.10" y1="422.4" x2="93.10" y2="432.3" stroke="#000" stroke-width="1.3" stroke-linecap="round"/>
<line x1="119.77" y1="422.4" x2="119.77" y2="428.3" stroke="#000" stroke-width="1.3" stroke-linecap="round"/>
<line x1="146.44" y1="422.4" x2="146.44" y2="428.3" stroke="#000" stroke-width="1.3" stroke-linecap="round"/>
<line x1="173.11" y1="422.4" x2="173.11" y2="428.3" stroke="#000" stroke-width="1.3" stroke-linecap="round"/>
<line x1="199.78" y1="422.4" x2="199.78" y2="432.3" stroke="#000" stroke-width="1.3" stroke-linecap="round"/>
<line x1="226.45" y1="422.4" x2="226.45" y2="428.3" stroke="#000" stroke-width="1.3" stroke-linecap="round"/>
<line x1="253.12" y1="422.4" x2="253.12" y2="428.3" stroke="#000" stroke-width="1.3" stroke-linecap="round"/>
<line x1="279.79" y1="422.4" x2="279.79" y2="428.3" stroke="#000" stroke-width="1.3" stroke-linecap="round"/>
<line x1="306.46" y1="422.4" x2="306.46" y2="432.3" stroke="#000" stroke-width="1.3" stroke-linecap="round"/>
<line x1="333.13" y1="422.4" x2="333.13" y2="428.3" stroke="#000" stroke-width="1.3" stroke-linecap="round"/>
<line x1="359.80" y1="422.4" x2="359.80" y2="428.3" stroke="#000" stroke-width="1.3" stroke-linecap="round"/>
<line x1="386.47" y1="422.4" x2="386.47" y2="428.3" stroke="#000" stroke-width="1.3" stroke-linecap="round"/>
<line x1="413.14" y1="422.4" x2="413.14" y2="432.3" stroke="#000" stroke-width="1.3" stroke-linecap="round"/>
<line x1="439.81" y1="422.4" x2="439.81" y2="428.3" stroke="#000" stroke-width="1.3" stroke-linecap="round"/>
<line x1="466.48" y1="422.4" x2="466.48" y2="428.3" stroke="#000" stroke-width="1.3" stroke-linecap="round"/>
<line x1="493.15" y1="422.4" x2="493.15" y2="428.3" stroke="#000" stroke-width="1.3" stroke-linecap="round"/>
<line x1="519.82" y1="422.4" x2="519.82" y2="432.3" stroke="#000" stroke-width="1.3" stroke-linecap="round"/>
<line x1="546.49" y1="422.4" x2="546.49" y2="428.3" stroke="#000" stroke-width="1.3" stroke-linecap="round"/>
<line x1="573.16" y1="422.4" x2="573.16" y2="428.3" stroke="#000" stroke-width="1.3" stroke-linecap="round"/>
<line x1="599.83" y1="422.4" x2="599.83" y2="428.3" stroke="#000" stroke-width="1.3" stroke-linecap="round"/>
<line x1="626.50" y1="422.4" x2="626.50" y2="432.3" stroke="#000" stroke-width="1.3" stroke-linecap="round"/>
<line x1="653.17" y1="422.4" x2="653.17" y2="428.3" stroke="#000" stroke-width="1.3" stroke-linecap="round"/>
<line x1="679.84" y1="422.4" x2="679.84" y2="428.3" stroke="#000" stroke-width="1.3" stroke-linecap="round"/>
<line x1="706.51" y1="422.4" x2="706.51" y2="428.3" stroke="#000" stroke-width="1.3" stroke-linecap="round"/>
<line x1="733.18" y1="422.4" x2="733.18" y2="432.3" stroke="#000" stroke-width="1.3" stroke-linecap="round"/>
<line x1="759.85" y1="422.4" x2="759.85" y2="428.3" stroke="#000" stroke-width="1.3" stroke-linecap="round"/>
<line x1="786.52" y1="422.4" x2="786.52" y2="428.3" stroke="#000" stroke-width="1.3" stroke-linecap="round"/>
<line x1="813.19" y1="422.4" x2="813.19" y2="428.3" stroke="#000" stroke-width="1.3" stroke-linecap="round"/>
<line x1="839.86" y1="422.4" x2="839.86" y2="432.3" stroke="#000" stroke-width="1.3" stroke-linecap="round"/>
<line x1="866.53" y1="422.4" x2="866.53" y2="428.3" stroke="#000" stroke-width="1.3" stroke-linecap="round"/>
</svg>
</body>
</html>
